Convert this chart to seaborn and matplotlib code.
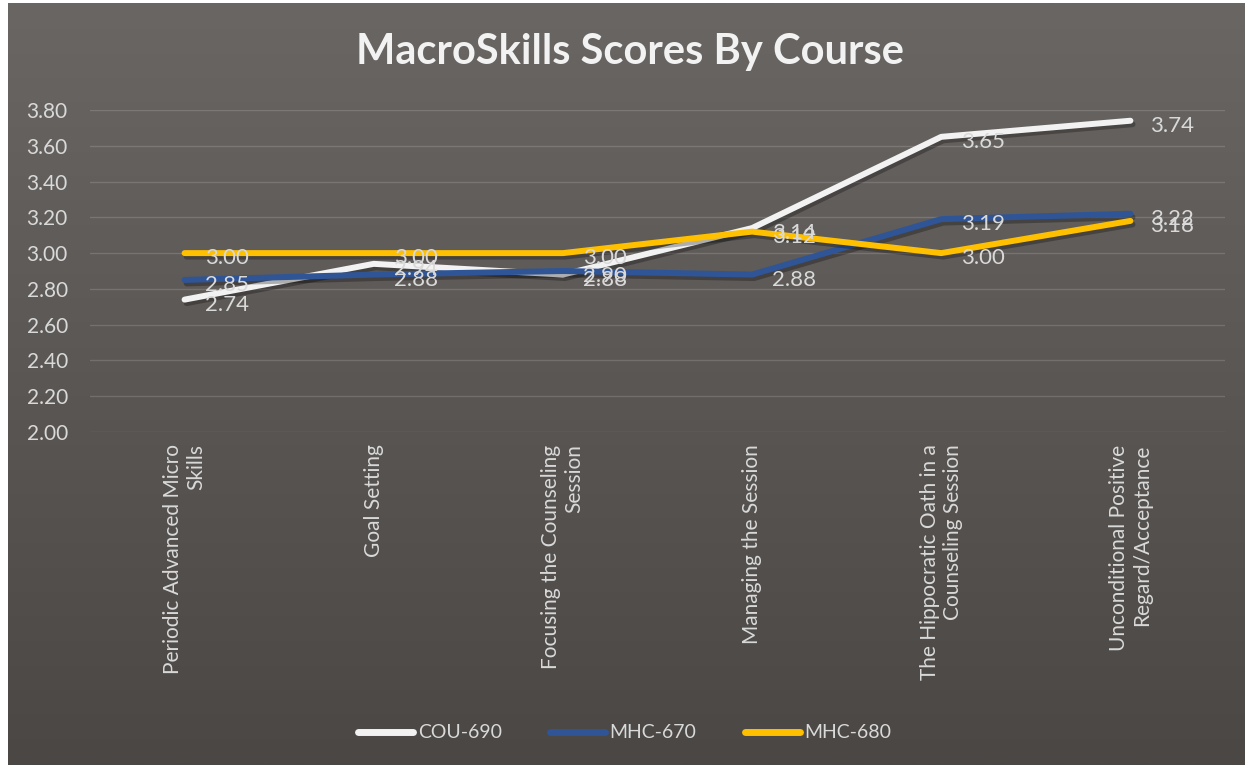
import numpy as np
import pandas as pd
import matplotlib
matplotlib.use('Agg')
import matplotlib.pyplot as plt
import matplotlib.patheffects as pe
import seaborn as sns

# data
categories = ['Periodic Advanced Micro\nSkills', 'Goal Setting',
              'Focusing the Counseling\nSession', 'Managing the Session',
              'The Hippocratic Oath in a\nCounseling Session',
              'Unconditional Positive\nRegard/Acceptance']
cou_690 = [2.74, 2.94, 2.88, 3.14, 3.65, 3.74]
mhc_670 = [2.85, 2.88, 2.90, 2.88, 3.19, 3.22]
mhc_680 = [3.00, 3.00, 3.00, 3.12, 3.00, 3.18]
series_names = ['COU-690', 'MHC-670', 'MHC-680']
y_ticks = [2.00, 2.20, 2.40, 2.60, 2.80, 3.00, 3.20, 3.40, 3.60, 3.80]

colors = {'COU-690': '#f2f2f2', 'MHC-670': '#2f5597', 'MHC-680': '#ffc000'}
text_col = '#d9d9d9'

df = pd.DataFrame({
    'idx': list(range(len(categories))) * 3,
    'score': cou_690 + mhc_670 + mhc_680,
    'course': np.repeat(series_names, len(categories)),
})

sns.set_theme(style='white')
plt.rcParams['font.family'] = ['Lato', 'DejaVu Sans']

fig = plt.figure(figsize=(12.5, 7.68), dpi=100)
fig.patch.set_facecolor('white')

# gray gradient background panel
bg = fig.add_axes([8 / 1250, 3 / 768, 1237 / 1250, 762 / 768], zorder=-10)
grad = np.linspace(0, 1, 256).reshape(-1, 1)
cmap = matplotlib.colors.LinearSegmentedColormap.from_list('bg', ['#6a6664', '#4a4745'])
bg.imshow(grad, aspect='auto', cmap=cmap, extent=[0, 1, 0, 1])
bg.set_axis_off()

ax = fig.add_axes([90 / 1250, 1 - 432 / 768, 1135 / 1250, 322 / 768])
ax.set_facecolor('none')

sns.lineplot(data=df, x='idx', y='score', hue='course', palette=colors,
             hue_order=series_names, linewidth=4.3, ax=ax, legend=True,
             solid_capstyle='round')

for line in ax.get_lines():
    line.set_path_effects([pe.SimpleLineShadow(offset=(1.5, -2.5), shadow_color='black', alpha=0.28),
                           pe.Normal()])

# data labels
for vals in [cou_690, mhc_670, mhc_680]:
    for i, v in enumerate(vals):
        ax.annotate(f'{v:.2f}', (i, v), xytext=(20, -5), textcoords='offset pixels',
                    ha='left', va='center', fontsize=16, color=text_col)

ax.set_xlim(-0.5, len(categories) - 0.5)
ax.set_ylim(2.0, 3.8)
ax.set_yticks(y_ticks)
ax.set_yticklabels([f'{t:.2f}' for t in y_ticks], fontsize=15, color=text_col)
ax.set_xticks(range(len(categories)))
ax.set_xticklabels(categories, rotation=90, fontsize=15, color=text_col,
                   ha='center', va='top')
for lbl in ax.get_xticklabels():
    lbl.set_multialignment('right')
ax.tick_params(axis='x', length=0, pad=9)
ax.tick_params(axis='y', length=0, pad=16)
ax.set_xlabel('')
ax.set_ylabel('')
for s in ax.spines.values():
    s.set_visible(False)
ax.yaxis.grid(True, color='#ffffff', alpha=0.15, linewidth=1)
ax.set_axisbelow(True)

leg = ax.legend(loc='center', bbox_to_anchor=(0.5, 1 - 733 / 768), bbox_transform=fig.transFigure,
                ncol=3, frameon=False, fontsize=14, handlelength=2.8, columnspacing=2.5,
                handletextpad=0.25)
for t in leg.get_texts():
    t.set_color(text_col)
for h in leg.get_lines():
    h.set_linewidth(5)
    h.set_path_effects([])

fig.text(0.504, 1 - 52 / 768, 'MacroSkills Scores By Course', ha='center', va='center',
         fontsize=30, fontweight='bold', color='#f2f2f2')

plt.savefig('out.png', dpi=100)
